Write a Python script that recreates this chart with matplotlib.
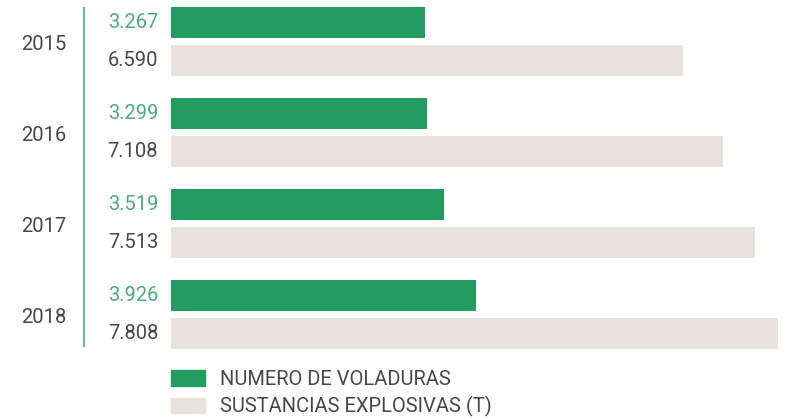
import matplotlib.pyplot as plt
from matplotlib.patches import Patch
from matplotlib.lines import Line2D

years = ['2015', '2016', '2017', '2018']
voladuras = [3267, 3299, 3519, 3926]
sustancias = [6590, 7108, 7513, 7808]
voladuras_lbl = ['3.267', '3.299', '3.519', '3.926']
sustancias_lbl = ['6.590', '7.108', '7.513', '7.808']
series_names = ['NUMERO DE VOLADURAS', 'SUSTANCIAS EXPLOSIVAS (T)']

green = '#239c62'
beige = '#e7e3dc'
green_txt = '#4aad77'
gray_txt = '#474747'

plt.rcParams['font.family'] = ['Roboto', 'DejaVu Sans']

W, H = 809, 418
fig = plt.figure(figsize=(W / 100, H / 100), dpi=100)
# axes: left edge at px 171, spans to right edge, top 0 to px 360
ax = fig.add_axes([171 / W, 1 - 360 / H, 1 - 171 / W, 360 / H])

off = 0.205
h = 0.34
pos = list(range(len(years)))
ax.barh([p - off for p in pos], voladuras, height=h, color=green)
ax.barh([p + off for p in pos], sustancias, height=h, color=beige)
ax.set_xlim(0, 8211)
ax.set_ylim(3.5, -0.456)
ax.axis('off')

tr = ax.get_yaxis_transform()
for p, y, a, b in zip(pos, years, voladuras_lbl, sustancias_lbl):
    ax.text(-0.199, p + 0.03, y, transform=tr, ha='center', va='center',
            fontsize=14.5, color=gray_txt)
    ax.text(-0.02, p - off, a, transform=tr, ha='right', va='center',
            fontsize=14.5, color=green_txt)
    ax.text(-0.02, p + off, b, transform=tr, ha='right', va='center',
            fontsize=14.5, color=gray_txt)

# vertical separator line
fig.add_artist(Line2D([84 / W, 84 / W], [1 - 8 / H, 1 - 346 / H],
                      color='#6dbd8d', lw=1.5))

handles = [Patch(color=green), Patch(color=beige)]
leg = fig.legend(handles, series_names, loc='upper left',
                 bbox_to_anchor=(171 / W, 1 - 370 / H), frameon=False,
                 fontsize=14.5, borderpad=0, borderaxespad=0,
                 handlelength=1.7, handleheight=0.8, handletextpad=0.72,
                 labelspacing=0.36)
for t in leg.get_texts():
    t.set_color(gray_txt)

fig.savefig('out.png', dpi=100)
